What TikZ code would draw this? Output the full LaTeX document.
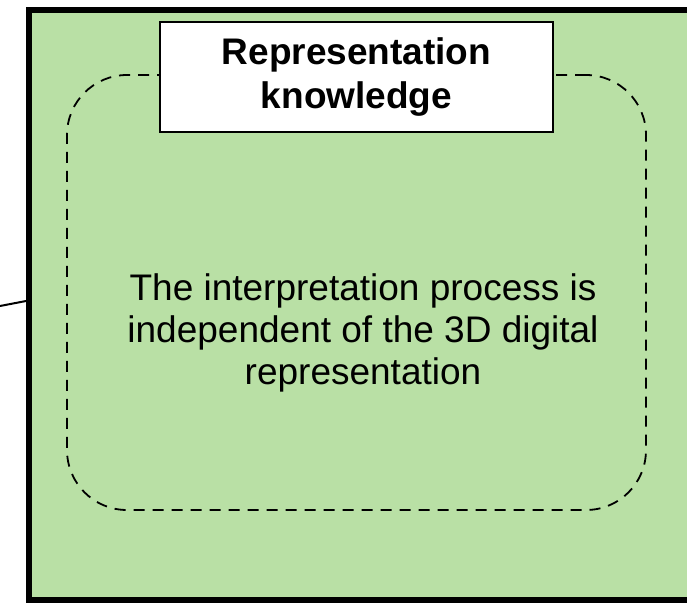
\documentclass[tikz,border=0pt]{standalone}
\usepackage{fontspec}
\setmainfont{Liberation Sans}
\usetikzlibrary{calc}
\definecolor{panelgreen}{HTML}{B9E0A5}

\begin{document}
\begin{tikzpicture}[x=1pt,y=-1pt,
	panelbox/.style={draw,line width=6pt,fill=panelgreen,minimum width=691pt,minimum height=590pt,inner sep=0pt},
	dashbox/.style={draw,line width=1.8pt,dash pattern=on 11pt off 8pt,rounded corners=60pt,minimum width=579pt,minimum height=435pt,inner sep=0pt},
	titlebox/.style={draw,line width=1.5pt,fill=white,minimum width=393pt,minimum height=110pt,inner sep=0pt,align=center,font=\fontsize{37}{44}\selectfont\bfseries}]
	\useasboundingbox (0,0) rectangle (687,602);
	\clip (0,0) rectangle (687,602);
	
	\node[panelbox] (panel) at (374.5,305) {};
	\node[dashbox] (inner) at (356.5,292.5) {};
	\node[titlebox] (title) at (356.5,77) {Representation\\knowledge};
	\node[align=center,inner sep=0pt,font=\fontsize{37}{42}\selectfont] (body) at (363,333)
		{The interpretation process is\\independent of the 3D digital\\representation};
	
	%-------------------------------------
	\coordinate (lead) at (0,306);
	\draw[line width=2pt] (lead) -- ($(panel.west |- lead)+(0,-5)$);
	
\end{tikzpicture}
\end{document}
